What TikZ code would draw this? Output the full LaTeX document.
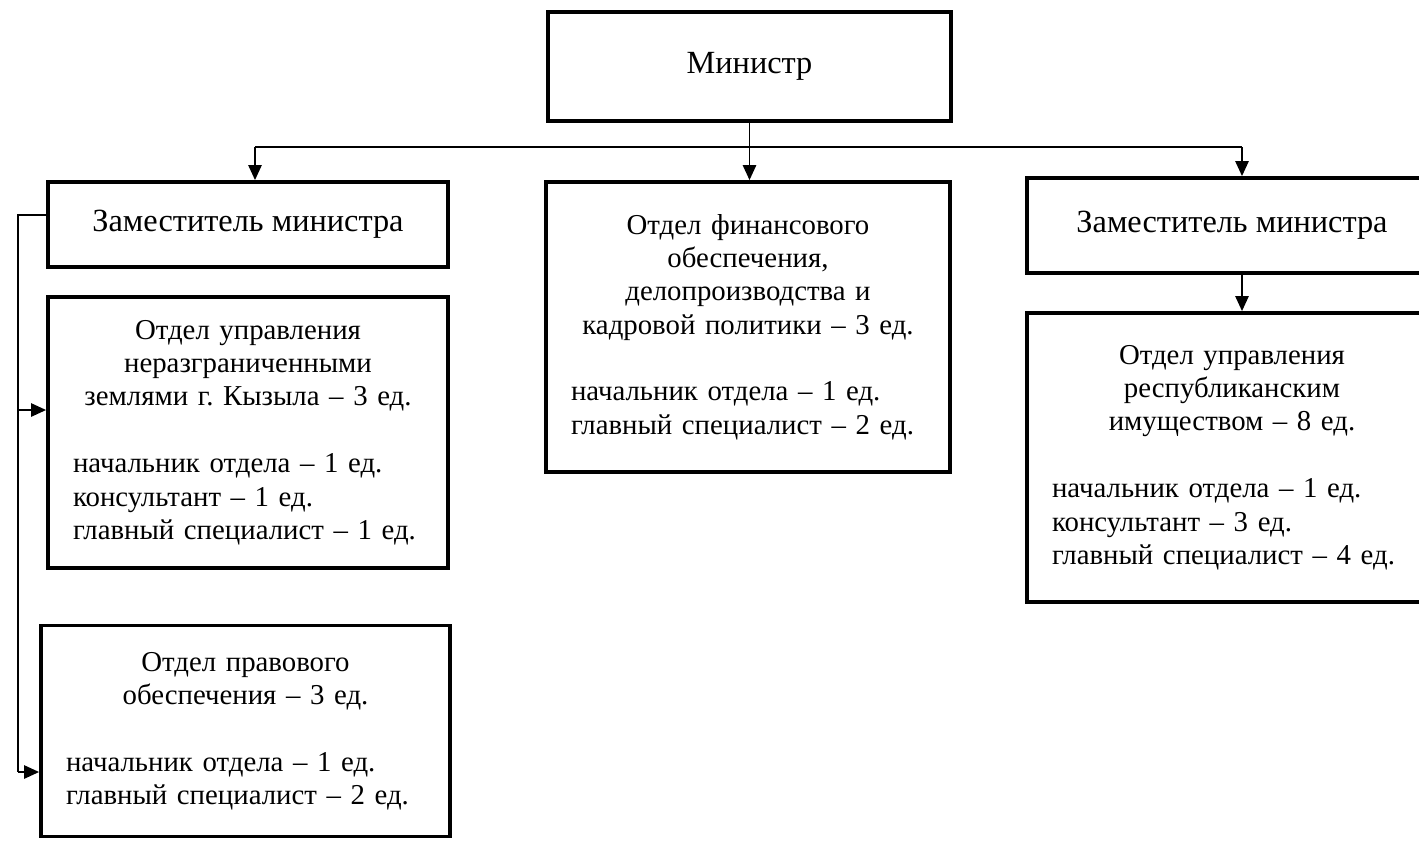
\documentclass[tikz,border=0pt]{standalone}
\usepackage{amsmath,amssymb}
\usepackage{fontspec}
\setmainfont{Liberation Serif}
\usepackage{xcolor}
\usepackage{tikz}
\usetikzlibrary{arrows.meta}

\begin{document}
\frenchspacing
\begin{tikzpicture}[x=0.02cm, y=-0.02cm,
    box/.style={draw, line width=2.2pt, inner sep=0pt, font=\fontsize{18.4}{20}\selectfont},
    dept/.style={box, text width=#1, font=\fontsize{16.4}{19}\selectfont},
    link/.style={line width=1.1pt},
    arr/.style={link, -{Triangle[length=8.5pt, width=7.5pt]}}]
    \path[use as bounding box, clip] (0, 0) rectangle (1419, 840);

    \node [box, minimum width=8.06cm, minimum height=2.18cm] (min) at (749.5, 66.5) {Министр};

    \node [box, minimum width=8cm, minimum height=1.7cm] (dep1) at (248, 224.5) {Заместитель министра};
    \node [box, minimum width=8.2cm, minimum height=1.9cm] (dep2) at (1232, 225.5) {Заместитель министра};

    \node [dept=7.08cm, minimum width=8.08cm, minimum height=5.8cm] (fin) at (748, 327) {\centering Отдел финансового\\обеспечения,\\делопроизводства и\\кадровой политики – 3 ед.\par\vspace{\baselineskip}\raggedright начальник отдела – 1 ед.\\главный специалист – 2 ед.\par};

    \node [dept=7cm, minimum width=8cm, minimum height=5.42cm] (zem) at (248, 432.5) {\centering Отдел управления\\неразграниченными\\землями г. Кызыла – 3 ед.\par\vspace{\baselineskip}\raggedright начальник отдела – 1 ед.\\консультант – 1 ед.\\главный специалист – 1 ед.\par};

    \node [dept=7.18cm, minimum width=8.18cm, minimum height=4.22cm] (prav) at (245.5, 731) {\centering Отдел правового\\обеспечения – 3 ед.\par\vspace{\baselineskip}\raggedright начальник отдела – 1 ед.\\главный специалист – 2 ед.\par};

    \node [dept=7.2cm, minimum width=8.2cm, minimum height=5.78cm] (imu) at (1232, 457.5) {\centering Отдел управления\\республиканским\\имуществом – 8 ед.\par\vspace{\baselineskip}\raggedright начальник отдела – 1 ед.\\консультант – 3 ед.\\главный специалист – 4 ед.\par};

    % шина от министра
    \coordinate (busl) at (255, 147);
    \coordinate (busr) at (1242, 147);
    \draw [link] (busl) -- (busr);
    \draw [arr] (busl) -- (busl |- dep1.north);
    \draw [arr] (busr) -- (busr |- dep2.north);
    \draw [arr] (min.south) -- (min.south |- fin.north);
    \draw [arr] (busr |- dep2.south) -- (busr |- imu.north);

    % левая линия подчинения
    \coordinate (lft) at (18, 410);
    \coordinate (lfb) at (18, 772);
    \draw [link] ([yshift=0.19cm]dep1.west) -| (lfb);
    \draw [arr] (lft) -- (lft -| zem.west);
    \draw [arr] (lfb) -- (lfb -| prav.west);

\end{tikzpicture}
\end{document}
